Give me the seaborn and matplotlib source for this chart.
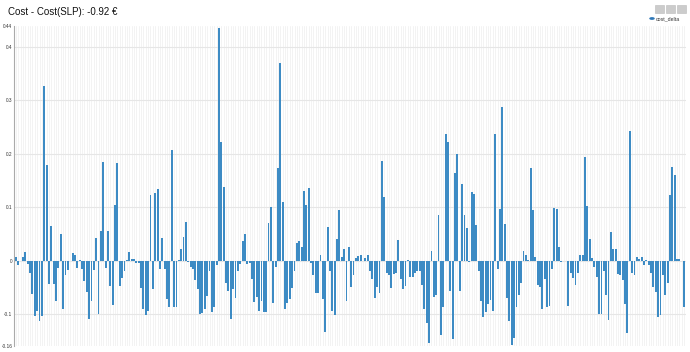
import numpy as np
import pandas as pd
import matplotlib
matplotlib.use("Agg")
import matplotlib.pyplot as plt
import seaborn as sns
from matplotlib.patches import Rectangle, Circle

title = "Cost - Cost(SLP): -0.92 €"
series_name = "cost_delta"

seg1 = [0.006, -0.009, -0.001, 0.006, 0.016, -0.006, -0.024, -0.062, -0.104, -0.094,
        -0.113, -0.104, 0.328, 0.179, -0.044, 0.065, -0.044, -0.076, -0.013, 0.049,
        -0.090, -0.026, -0.018, -0.001, 0.015, 0.011, -0.013, 0.001, -0.016, -0.039,
        -0.058, -0.110, -0.075, -0.018, 0.043, -0.099, 0.056, 0.184, -0.014, 0.056,
        -0.047, -0.083, 0.104, 0.183, -0.047, -0.033, -0.019, 0.001, 0.016, 0.004,
        0.004, -0.005, -0.005, -0.052, -0.090, -0.102, -0.095, 0.123, -0.053, 0.127,
        0.134, -0.015, 0.043, -0.016, -0.071, -0.087, 0.208, -0.087, -0.087, 0.001,
        0.022, 0.045, 0.073, -0.002, -0.011, -0.016, -0.037, -0.053, -0.100, -0.098,
        -0.090, -0.066, -0.019, -0.097, -0.087, -0.008, 0.435, 0.222, 0.138, -0.042,
        -0.057]
seg2 = [-0.110, -0.054, -0.069, -0.019, -0.006, 0.037, 0.050, -0.006, -0.005, -0.034,
        -0.077, -0.068, -0.094, -0.075, -0.096, -0.096, 0.070, 0.100, -0.080, -0.011,
        0.174, 0.371, 0.109, -0.091, -0.079, -0.071, -0.051, -0.019, 0.033, 0.036,
        0.026, 0.130, 0.105, 0.136, -0.005, -0.026, -0.060, -0.061, 0.010, -0.071,
        -0.134, 0.063, -0.020, -0.094, -0.101, 0.041, 0.095, 0.0075, 0.021, -0.076,
        0.025, -0.049, -0.0275, 0.005, 0.009, 0.011, 0.0, 0.005, 0.010, -0.019,
        -0.034, -0.070, -0.050, -0.061, 0.1875, 0.119, -0.024, -0.0275, -0.051, -0.025,
        -0.0225, 0.039, -0.035, -0.0525, -0.0475, 0.001, -0.030, -0.031, -0.0225, -0.020,
        -0.019, -0.046, -0.090, -0.1175, -0.154, 0.019, -0.0675, -0.065, 0.086, -0.139,
        -0.086, 0.2375, 0.2225, -0.056, -0.1475, 0.164, 0.199]
seg3 = [-0.056, 0.144, 0.086, 0.061, -0.003, 0.129, 0.125, 0.067, -0.019, -0.076,
        -0.106, -0.096, -0.081, -0.074, -0.095, 0.2375, -0.015, 0.097, 0.2875, 0.069,
        -0.069, -0.1125, -0.1575, -0.144, -0.086, -0.065, -0.0425, 0.019, 0.011, 0.001,
        0.174, 0.094, 0.006, -0.046, -0.050, -0.091, -0.035, -0.0875, -0.085, -0.016,
        0.099, 0.096, 0.025, -0.0025, 0.0, 0.0, -0.084, -0.0225, -0.0325, -0.046,
        -0.024, 0.011, 0.011, 0.194, 0.1025, 0.040, 0.005, -0.011, -0.031, -0.099,
        -0.100, -0.019, -0.064, -0.111, 0.054, 0.021, 0.021, -0.025, -0.0275, -0.036,
        -0.081, -0.136, 0.2425, -0.0225, -0.026, 0.0075, 0.0025, 0.0075, -0.009, 0.001,
        -0.009, -0.0225, -0.050, -0.059, -0.106, -0.1025, -0.0275, -0.064, -0.0425, 0.1225,
        0.176, 0.161, 0.0025, 0.0025, 0.0, -0.0875]
cost_delta = seg1 + seg2 + seg3

y_ticks = [-0.16, -0.1, 0, 0.1, 0.2, 0.3, 0.4, 0.44]
y_tick_labels = ["-0.16", "-0.1", "0", "0.1", "0.2", "0.3", "0.4", "0.44"]

sns.set_theme(style="white")
plt.rcParams['font.family'] = ['Liberation Sans', 'DejaVu Sans']

n = len(cost_delta)
df = pd.DataFrame({"idx": np.arange(n), series_name: cost_delta})

fig = plt.figure(figsize=(6.9, 3.52), dpi=100)
top_px, bot_px = 25.7, 346.1
ax = fig.add_axes([14/690, 1-bot_px/352, (686-14)/690, (bot_px-top_px)/352])

for i in range(n):
    ax.axvline(i, color="#f1f1f1", lw=0.6, zorder=0)
for t in [-0.1, 0, 0.1, 0.2, 0.3, 0.4]:
    ax.axhline(t, color="#e6e6e6", lw=0.8, zorder=0.5)

sns.barplot(data=df, x="idx", y=series_name, color="#3d8bc4", saturation=1,
            width=0.8, ax=ax, zorder=2, linewidth=0)

ax.set_xlim(-0.8, n - 0.2)
ax.set_ylim(-0.16, 0.44)
ax.set_xticks([])
ax.set_yticks(y_ticks)
ax.set_yticklabels(y_tick_labels, fontsize=3.4, color="#333333")
ax.tick_params(axis="y", length=0, pad=1.2)
ax.set_xlabel("")
ax.set_ylabel("")
for s in ["top", "right", "bottom"]:
    ax.spines[s].set_visible(False)
ax.spines["left"].set_color("#aaaaaa")
ax.spines["left"].set_linewidth(0.8)

fig.text(8/690, 1-12/352, title, fontsize=7, color="#111111", va="center", ha="left")

# toolbar icons
for xp in [655, 666, 677]:
    fig.patches.append(Rectangle((xp/690, 1-13/352), 9/690, 8/352,
                                 transform=fig.transFigure, facecolor="#cccccc",
                                 edgecolor="#bbbbbb", lw=0.4))
# legend
fig.patches.append(Circle((652/690, 1-18.5/352), 0.004, transform=fig.transFigure,
                          facecolor="#2f78b8", edgecolor="none"))
fig.text(656/690, 1-18.5/352, series_name, fontsize=3.8, color="#333333", va="center", ha="left")

fig.savefig("out.png", dpi=100)
